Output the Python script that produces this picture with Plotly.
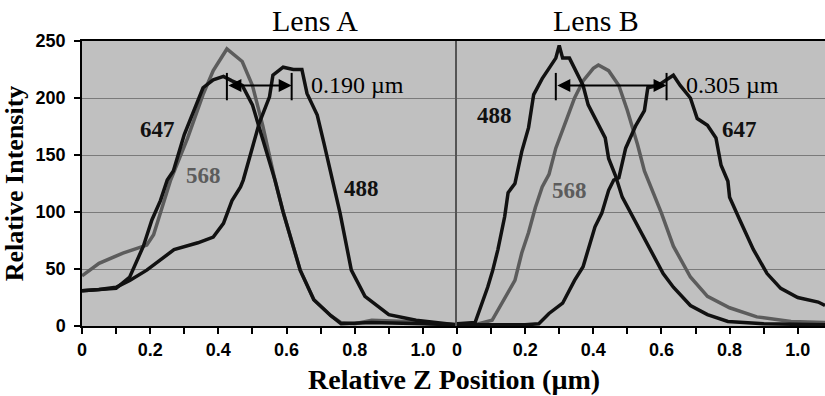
import plotly.graph_objects as go

# ---------------- data ----------------
a568_x = [0, 0.05, 0.12, 0.19, 0.21, 0.23, 0.26, 0.31, 0.355, 0.385, 0.425, 0.47, 0.50, 0.53, 0.566, 0.59, 0.64, 0.68, 0.73, 0.76, 0.80, 0.85, 0.95, 1.02, 1.1]
a568_y = [44, 55, 64, 71, 80, 99, 128, 165, 203, 224, 243, 232, 211, 176, 128, 100, 49, 23, 9, 3, 2, 5, 4, 2, 1]

a647_x = [0, 0.05, 0.10, 0.14, 0.18, 0.205, 0.23, 0.25, 0.268, 0.30, 0.33, 0.355, 0.385, 0.415, 0.44, 0.47, 0.50, 0.53, 0.566, 0.59, 0.64, 0.68, 0.73, 0.76, 0.85, 1.0, 1.1]
a647_y = [31, 32, 33, 43, 70, 93, 110, 128, 136, 168, 191, 209, 216, 219, 215, 211, 194, 165, 128, 100, 49, 23, 9, 2, 3, 2, 1]

a488_x = [0, 0.05, 0.10, 0.14, 0.19, 0.27, 0.34, 0.385, 0.415, 0.44, 0.465, 0.473, 0.52, 0.55, 0.56, 0.59, 0.62, 0.645, 0.66, 0.69, 0.71, 0.74, 0.757, 0.79, 0.83, 0.90, 0.98, 1.07, 1.1]
a488_y = [31, 32, 34, 40, 49, 67, 73, 78, 90, 110, 122, 128, 178, 201, 220, 227, 225, 225, 204, 185, 160, 122, 99, 49, 26, 10, 5, 2, 1]

b488_x = [0, 0.053, 0.09, 0.105, 0.12, 0.14, 0.15, 0.17, 0.19, 0.21, 0.225, 0.25, 0.27, 0.29, 0.30, 0.31, 0.33, 0.345, 0.37, 0.385, 0.415, 0.435, 0.445, 0.465, 0.485, 0.515, 0.54, 0.57, 0.605, 0.635, 0.685, 0.735, 0.795, 0.9, 1.08]
b488_y = [2, 3, 34, 49, 67, 96, 117, 125, 153, 174, 203, 217, 226, 235, 246, 235, 235, 226, 211, 194, 176, 165, 147, 132, 113, 96, 82, 65, 46, 34, 18, 10, 4, 2, 1]

b568_x = [0, 0.05, 0.103, 0.14, 0.17, 0.19, 0.21, 0.23, 0.25, 0.27, 0.29, 0.32, 0.345, 0.37, 0.40, 0.415, 0.445, 0.475, 0.50, 0.53, 0.55, 0.60, 0.635, 0.685, 0.735, 0.80, 0.88, 0.98, 1.08]
b568_y = [1, 1, 5, 25, 40, 64, 82, 104, 122, 133, 156, 180, 200, 215, 226, 229, 224, 211, 189, 159, 136, 99, 70, 43, 26, 16, 8, 4, 3]

b647_x = [0, 0.1, 0.2, 0.24, 0.27, 0.31, 0.345, 0.37, 0.385, 0.405, 0.425, 0.445, 0.46, 0.475, 0.495, 0.525, 0.55, 0.56, 0.59, 0.62, 0.635, 0.655, 0.685, 0.705, 0.735, 0.76, 0.775, 0.795, 0.80, 0.83, 0.87, 0.91, 0.95, 1.0, 1.06, 1.08]
b647_y = [1, 1, 1, 2, 11, 20, 40, 52, 67, 87, 99, 119, 128, 130, 156, 176, 189, 209, 211, 217, 220, 211, 200, 182, 176, 165, 141, 127, 113, 93, 67, 46, 33, 25, 21, 18]

x_tick_vals = [0, 0.1, 0.2, 0.3, 0.4, 0.5, 0.6, 0.7, 0.8, 0.9, 1.0]
x_tick_text = ["0", "", "0.2", "", "0.4", "", "0.6", "", "0.8", "", "1.0"]
y_tick_vals = [0, 50, 100, 150, 200, 250]

# peak-separation markers: (left peak, right peak, arrow level, label)
sep_a = [0.425, 0.615, 211, "0.190 \u00b5m"]
sep_b = [0.29, 0.615, 211, "0.305 \u00b5m"]

# curve labels: (text, x, y, colour-key)
labels_a = [("647", 0.22, 172, "k"), ("568", 0.355, 132, "g"), ("488", 0.82, 121, "k")]
labels_b = [("488", 0.11, 185, "k"), ("568", 0.33, 119, "g"), ("647", 0.83, 172, "k")]

BLACK = "#111111"
GRAY = "#5c5c5c"
SERIF = "Liberation Serif"
SANS = "Liberation Sans"

fig = go.Figure()

def add(x, y, col, xa, ya):
    fig.add_trace(go.Scatter(x=x, y=y, mode="lines", xaxis=xa, yaxis=ya,
                             line=dict(color=col, width=3.5), showlegend=False,
                             hoverinfo="skip"))

add(a568_x, a568_y, GRAY, "x", "y")
add(a647_x, a647_y, BLACK, "x", "y")
add(a488_x, a488_y, BLACK, "x", "y")
add(b568_x, b568_y, GRAY, "x2", "y2")
add(b488_x, b488_y, BLACK, "x2", "y2")
add(b647_x, b647_y, BLACK, "x2", "y2")

split = 375 / 743

tickfont = dict(family=SANS, size=18, color="black", weight="bold")
xcommon = dict(tickvals=x_tick_vals, ticktext=x_tick_text, ticks="outside",
               ticklen=6, tickwidth=1.5, tickcolor="black", showgrid=False,
               zeroline=False, showline=True, linecolor="black", linewidth=2,
               mirror=True, tickfont=tickfont)
fig.update_layout(
    xaxis=dict(domain=[0, split], range=[0, 1.1], anchor="y", **xcommon),
    xaxis2=dict(domain=[split, 1], range=[0, 1.08], anchor="y2", **xcommon),
    yaxis=dict(range=[0, 250], tickvals=y_tick_vals, ticks="outside", ticklen=6,
               tickwidth=1.5, tickcolor="black", showgrid=True,
               gridcolor="#7a7a7a", gridwidth=1.2, zeroline=False,
               showline=True, linecolor="black", linewidth=1.5, mirror=False,
               anchor="x", ticklabelstandoff=5, tickfont=tickfont,
               title=dict(text="Relative Intensity", standoff=8,
                          font=dict(family=SERIF, size=26, color="black", weight="bold"))),
    yaxis2=dict(range=[0, 250], tickvals=y_tick_vals, showticklabels=False,
                ticks="", showgrid=True, gridcolor="#7a7a7a", gridwidth=1.2,
                zeroline=False, showline=True, linecolor="#555555", linewidth=1.5,
                anchor="x2"),
    plot_bgcolor="#c0c0c0",
    paper_bgcolor="white",
    width=825, height=396,
    margin=dict(l=82, r=0, t=41, b=70),
)

ann = []
for xa, ya, sep, labels in (("x", "y", sep_a, labels_a), ("x2", "y2", sep_b, labels_b)):
    xl, xr, yl, txt = sep
    ann.append(dict(x=xr, y=yl, ax=xl, ay=yl, xref=xa, yref=ya, axref=xa, ayref=ya,
                    text="", showarrow=True, arrowhead=2, startarrowhead=2,
                    arrowside="end+start", arrowsize=1.3, startarrowsize=1.3,
                    arrowwidth=2, arrowcolor="black"))
    ann.append(dict(x=xr + 0.05, y=yl, xref=xa, yref=ya, text=txt, showarrow=False,
                    xanchor="left", yanchor="middle",
                    font=dict(family=SERIF, size=24, color="black")))
    for xv in (xl, xr):
        fig.add_shape(type="line", x0=xv, x1=xv, y0=yl - 13, y1=yl + 11,
                      xref=xa, yref=ya, line=dict(color="black", width=2))
    for t, lx, ly, c in labels:
        ann.append(dict(x=lx, y=ly, xref=xa, yref=ya, text=t, showarrow=False,
                        font=dict(family=SERIF, size=23, weight="bold",
                                  color=BLACK if c == "k" else GRAY)))

ann.append(dict(x=split / 2, y=1, xref="paper", yref="paper", yshift=2,
                text="Lens A", showarrow=False, yanchor="bottom",
                font=dict(family=SERIF, size=30, color="black")))
ann.append(dict(x=(split + 1) / 2, y=1, xref="paper", yref="paper", yshift=2,
                text="Lens B", showarrow=False, yanchor="bottom",
                font=dict(family=SERIF, size=30, color="black")))
ann.append(dict(x=0.5, y=0, xref="paper", yref="paper", yshift=-36,
                text="Relative Z Position (\u00b5m)", showarrow=False,
                yanchor="top",
                font=dict(family=SERIF, size=28, color="black", weight="bold")))
fig.update_layout(annotations=ann)

fig.write_html("out.html")
